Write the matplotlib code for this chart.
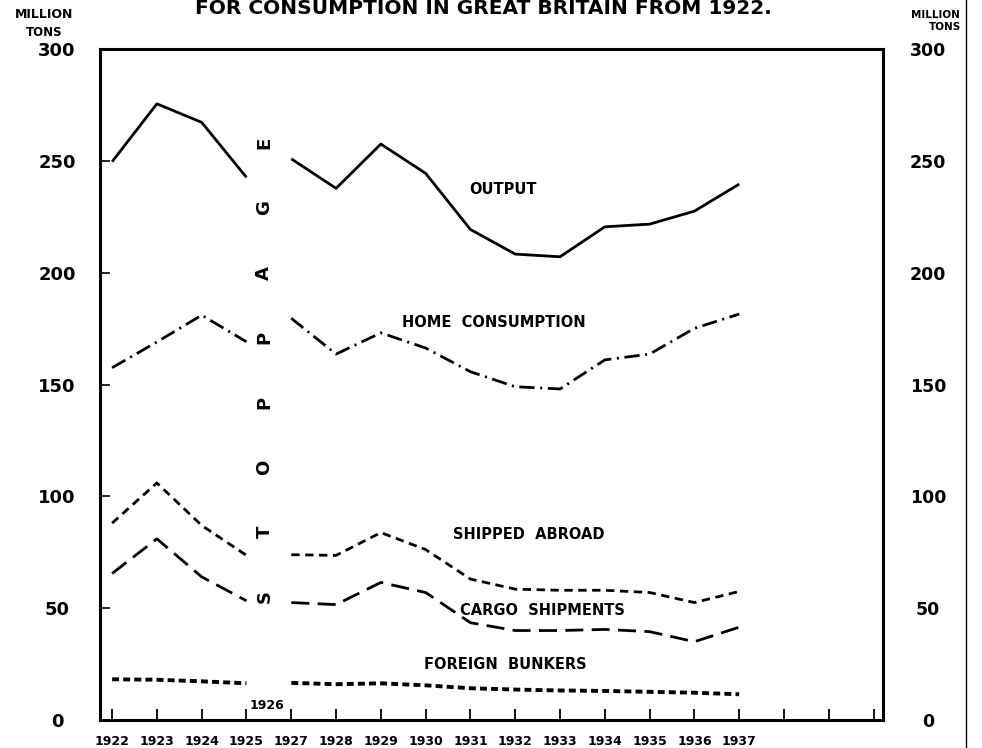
import numpy as np
import matplotlib
matplotlib.use("Agg")
import matplotlib.pyplot as plt

plt.rcParams['lines.scale_dashes'] = False

# years on the axis (1926 = stoppage, no data)
years = ["1922", "1923", "1924", "1925", "1927", "1928", "1929", "1930",
         "1931", "1932", "1933", "1934", "1935", "1936", "1937"]

# million tons
output = [249.6, 275.5, 267.2, 242.6, 250.9, 237.7, 257.5, 244.4,
          219.3, 208.3, 207.1, 220.5, 221.7, 227.5, 239.6]
home_consumption = [157.5, 169.0, 181.0, 169.1, 179.6, 163.6, 173.1, 166.3,
                    155.7, 149.0, 148.0, 161.0, 163.6, 175.1, 181.5]
shipped_abroad = [88, 106, 87, 73.6, 73.9, 73.6, 83.8, 76.2,
                  63.0, 58.5, 58.0, 58.0, 57.0, 52.5, 57.5]
cargo_shipments = [65.5, 81, 64, 53.3, 52.5, 51.6, 61.5, 57.0,
                   43.5, 40.0, 40.0, 40.5, 39.5, 35.0, 41.5]
foreign_bunkers = [18.2, 18.0, 17.3, 16.4, 16.6, 16.0, 16.4, 15.5,
                   14.2, 13.6, 13.2, 13.0, 12.6, 12.2, 11.5]

y_ticks = [0, 50, 100, 150, 200, 250, 300]
stoppage = "STOPPAGE"

fig = plt.figure(figsize=(9.82, 7.48), dpi=100)
ax = fig.add_axes([100 / 982, 28 / 748, 783 / 982, 671 / 748])

x = np.arange(len(years))
before = x <= 3  # 1922-1925
after = x >= 4   # 1927-1937

def draw(values, **kw):
    v = np.array(values, dtype=float)
    ax.plot(x[before], v[before], color='black', **kw)
    ax.plot(x[after], v[after], color='black', **kw)

draw(output, lw=2.0, solid_capstyle='butt')
draw(home_consumption, lw=2.0, dashes=(11, 4, 1.5, 4))
draw(shipped_abroad, lw=2.0, dashes=(6, 4))
draw(cargo_shipments, lw=2.0, dashes=(13, 6))
draw(foreign_bunkers, lw=2.8, dashes=(5, 3))

ax.set_xlim(-0.27, 17.21)
ax.set_ylim(0, 300)

ax.set_xticks(np.arange(18))
ax.set_xticklabels(years + ["", "", ""], fontsize=9, fontweight='bold')
ax.tick_params(axis='x', direction='in', length=8, width=1.3, pad=11)

ax.set_yticks(y_ticks)
ax.set_yticklabels([str(t) for t in y_ticks], fontsize=13, fontweight='bold')
ax.tick_params(axis='y', direction='in', length=7, width=1.2, pad=31,
               left=True, right=True)
for lab in ax.get_yticklabels():
    lab.set_horizontalalignment('center')

for s in ax.spines.values():
    s.set_linewidth(2.2)

# right-hand scale
ax2 = ax.twinx()
ax2.set_ylim(0, 300)
ax2.set_yticks(y_ticks)
ax2.set_yticklabels([str(t) for t in y_ticks], fontsize=12.5, fontweight='bold')
ax2.tick_params(axis='y', direction='in', length=0, pad=32.5)
for lab in ax2.get_yticklabels():
    lab.set_horizontalalignment('center')

# series labels
lab_kw = dict(fontsize=10.5, fontweight='bold', va='center')
ax.text(8.72, 237, "OUTPUT", ha='center', **lab_kw)
ax.text(6.47, 177.5, "HOME  CONSUMPTION", ha='left', **lab_kw)
ax.text(7.6, 83, "SHIPPED  ABROAD", ha='left', **lab_kw)
ax.text(7.77, 49, "CARGO  SHIPMENTS", ha='left', **lab_kw)
ax.text(6.96, 24.6, "FOREIGN  BUNKERS", ha='left', **lab_kw)

# stoppage letters, reading upward
for ch, yy in zip(stoppage, np.linspace(55, 258, len(stoppage))):
    ax.text(3.4, yy, ch, rotation=90, ha='center', va='center',
            fontsize=13, fontweight='bold')
ax.text(3.08, 6.5, "1926", ha='left', va='center', fontsize=9,
        fontweight='bold')

# headers
fig.text(483 / 982, 1 - 8 / 748, "FOR CONSUMPTION IN GREAT BRITAIN FROM 1922.",
         ha='center', va='center', fontsize=14.5, fontweight='bold')
fig.text(44 / 982, 1 - 15 / 748, "MILLION", ha='center', va='center',
         fontsize=9, fontweight='bold')
fig.text(44 / 982, 1 - 33 / 748, "TONS", ha='center', va='center',
         fontsize=8.5, fontweight='bold')
fig.text(935 / 982, 1 - 15 / 748, "MILLION", ha='center', va='center',
         fontsize=7.5, fontweight='bold')
fig.text(945 / 982, 1 - 27 / 748, "TONS", ha='center', va='center',
         fontsize=7.5, fontweight='bold')

# page edge line from the scan
fig.add_artist(plt.Line2D([966 / 982, 966 / 982], [0, 1], color='black',
                          lw=1.0, transform=fig.transFigure))

fig.savefig("out.png", dpi=100)
